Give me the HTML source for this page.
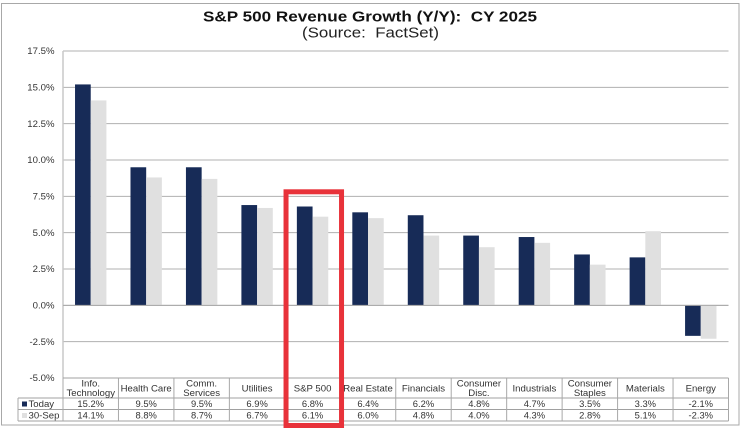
<!DOCTYPE html>
<html lang="en">
<head>
<meta charset="utf-8">
<title>S&amp;P 500 Revenue Growth (Y/Y): CY 2025</title>
<style>
html,body{margin:0;padding:0;background:#fff;}
svg{display:block;font-family:"Liberation Sans",Arial,sans-serif;filter:blur(0.3px);}
</style>
</head>
<body>
<svg id="chart" xmlns="http://www.w3.org/2000/svg" width="742" height="438" viewBox="0 0 742 438"></svg>
<script>
const categories = [["Info.","Technology"],["Health Care"],["Comm.","Services"],["Utilities"],["S&P 500"],["Real Estate"],["Financials"],["Consumer","Disc."],["Industrials"],["Consumer","Staples"],["Materials"],["Energy"]];
const todayValues = [15.2,9.5,9.5,6.9,6.8,6.4,6.2,4.8,4.7,3.5,3.3,-2.1];
const sepValues = [14.1,8.8,8.7,6.7,6.1,6.0,4.8,4.0,4.3,2.8,5.1,-2.3];
const yTicks = [17.5,15,12.5,10,7.5,5,2.5,0,-2.5,-5];
const seriesNames = ["Today","30-Sep"];
const highlightedCategory = "S&P 500";

const NS = "http://www.w3.org/2000/svg";
const svg = document.getElementById("chart");
const NAVY = "#172b57", LIGHT = "#e0e0e0", GRID = "#b0b0b0", TEXT = "#333";
const plotL = 63, plotR = 728.5, plotT = 51, plotB = 378;
const colW = (plotR - plotL) / categories.length;
const barW = 15.7;
const yMax = yTicks[0], yMin = yTicks[yTicks.length - 1];
const rowY = [378, 398, 409.5, 421];

function yScale(v) { return plotT + (yMax - v) / (yMax - yMin) * (plotB - plotT); }
function colX(i) { return plotL + i * colW; }
function add(tag, attrs, parent) {
  const el = document.createElementNS(NS, tag);
  for (const k in attrs) el.setAttribute(k, attrs[k]);
  (parent || svg).appendChild(el);
  return el;
}
function line(x1, y1, x2, y2, color, width, parent) {
  return add("line", {x1, y1, x2, y2, stroke: color, "stroke-width": width}, parent);
}
function label(str, x, y, size, anchor, parent, color) {
  const t = add("text", {x, y, "font-size": size, "text-anchor": anchor, fill: color || TEXT}, parent);
  t.textContent = str;
  return t;
}
function pct(v) { return v.toFixed(1) + "%"; }

const frame = add("rect", {x: 1.5, y: 3.5, width: 737.5, height: 421.5, fill: "#fff", stroke: "#a8a8a8", "stroke-width": 1});



const title = label("S&P 500 Revenue Growth (Y/Y):  CY 2025", 370, 21.5, 14.5, "middle", svg, "#111");
title.setAttribute("font-weight", "bold");
title.setAttribute("style", "white-space:pre");
title.setAttribute("textLength", "334");
title.setAttribute("lengthAdjust", "spacingAndGlyphs");



const subtitle = label("(Source:  FactSet)", 370.5, 37.5, 14.5, "middle", svg, "#222");
subtitle.setAttribute("style", "white-space:pre");
subtitle.setAttribute("textLength", "137");
subtitle.setAttribute("lengthAdjust", "spacingAndGlyphs");



yTicks.forEach(function (v) {
  const y = yScale(v);
  if (v !== yMin) {
    const g = line(plotL, y, plotR, y, GRID, 1);
    
    
  }
  const t = label(pct(v), 54.5, y + 3.2, 9.6, "end");
  
  
});

const yAxis = line(plotL, plotT, plotL, plotB, "#c8c8c8", 1.5);



categories.forEach(function (c, i) {
  const startX = colX(i) + (colW - 2 * barW) / 2;
  [todayValues[i], sepValues[i]].forEach(function (v, s) {
    const y0 = yScale(0), yv = yScale(v);
    const bar = add("rect", {
      x: startX + s * barW, y: Math.min(y0, yv), width: barW,
      height: Math.abs(yv - y0), fill: s === 0 ? NAVY : LIGHT
    });
    
    
  });
});

const zero = line(plotL, yScale(0), plotR, yScale(0), "#a8a8a8", 1);



const table = add("g", {});



rowY.forEach(function (y, r) {
  line(r === 0 ? plotL : 18, y, plotR, y, "#a0a0a0", 1, table);
});
for (let i = 0; i <= categories.length; i++) {
  line(colX(i), rowY[0], colX(i), rowY[3], "#a8a8a8", 1, table);
}
line(18, rowY[1], 18, rowY[3], "#a8a8a8", 1, table);

categories.forEach(function (c, i) {
  const cx = colX(i) + colW / 2;
  const yy = c.length === 2 ? [386.5, 396] : [391.5];
  c.forEach(function (part, k) {
    const t = label(part, cx, yy[k], 9.6, "middle", table);
    
    
  });
  const a = label(pct(todayValues[i]), cx, 407, 9.4, "middle", table);
  
  
  const b = label(pct(sepValues[i]), cx, 418.5, 9.4, "middle", table);
  
  
});

seriesNames.forEach(function (n, s) {
  const k = add("rect", {x: 22, y: rowY[1 + s] + 3.5, width: 5, height: 5, fill: s === 0 ? NAVY : LIGHT}, table);
  
  
  const t = label(n, 28.5, rowY[1 + s] + 9, 9.6, "start", table);
  
  
});

const hi = categories.findIndex(function (c) { return c[0] === highlightedCategory; });
const box = add("rect", {x: colX(hi) + 1.2, y: 191.8, width: 55.5, height: 233.7, fill: "none", stroke: "#e8323a", "stroke-width": 5});


</script>
</body>
</html>
